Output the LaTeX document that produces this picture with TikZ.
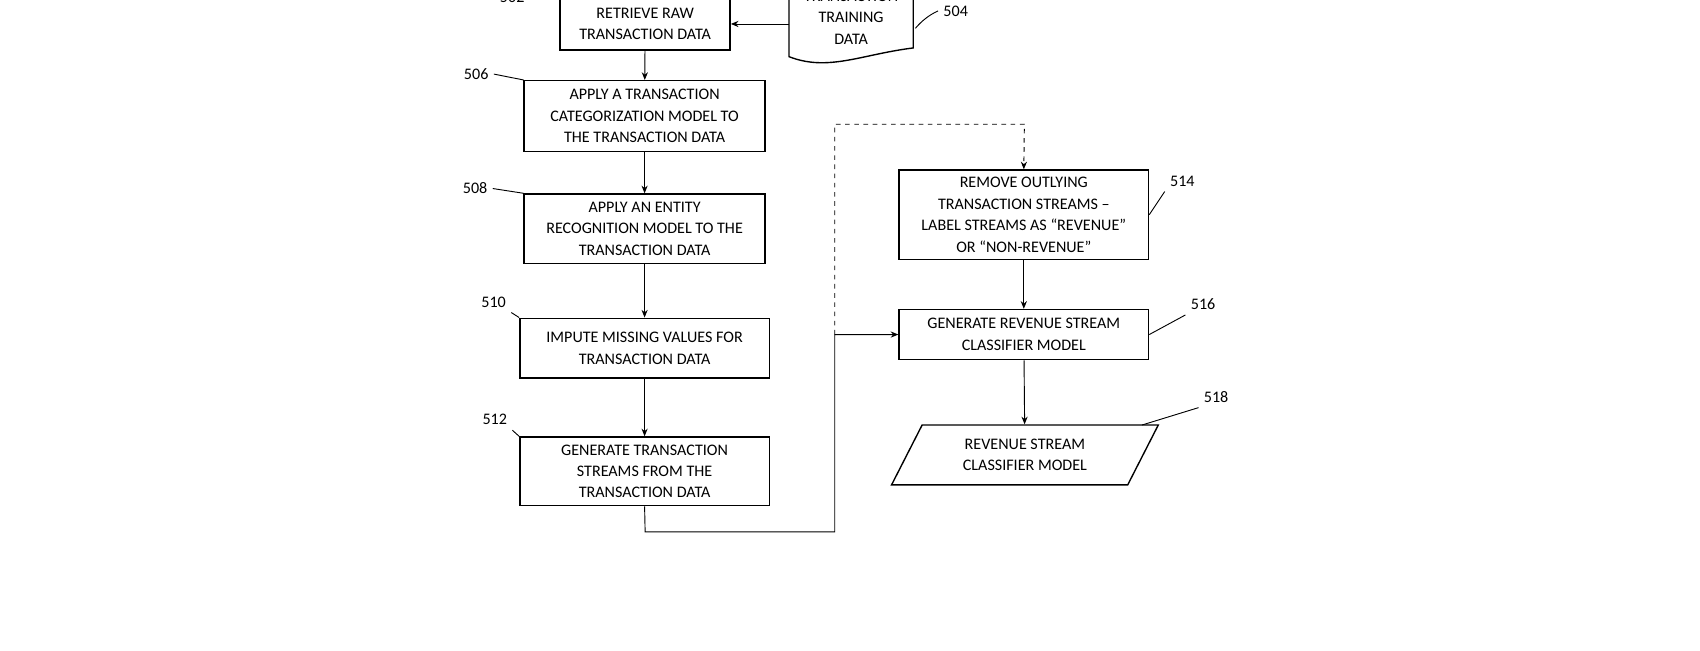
\documentclass[tikz,border=0pt]{standalone}
\usepackage{fontspec}
\setmainfont{Carlito}
\usetikzlibrary{arrows.meta,shapes.geometric}
\begin{document}
\begin{tikzpicture}[x=0.025cm,y=-0.025cm,
 box/.style={draw,line width=0.9pt,align=center,inner sep=0pt,font=\fontsize{10.5}{14}\selectfont},
 lab/.style={font=\fontsize{10.5}{12}\selectfont},
 arr/.style={-{Stealth[length=5pt,width=4pt]},line width=0.6pt},
 lead/.style={line width=0.6pt}]
\useasboundingbox (0,0) rectangle (1560,597);
\node[box,minimum width=156*0.025cm,minimum height=48*0.025cm] (b502) at (592,22) {RETRIEVE RAW\\TRANSACTION DATA};
\node[box,minimum width=221*0.025cm,minimum height=65*0.025cm] (b506) at (591.5,106.5) {APPLY A TRANSACTION\\CATEGORIZATION MODEL TO\\THE TRANSACTION DATA};
\node[box,minimum width=221*0.025cm,minimum height=64*0.025cm] (b508) at (591.5,210) {APPLY AN ENTITY\\RECOGNITION MODEL TO THE\\TRANSACTION DATA};
\node[box,minimum width=229*0.025cm,minimum height=55*0.025cm] (b510) at (591.5,319.5) {IMPUTE MISSING VALUES FOR\\TRANSACTION DATA};
\node[box,minimum width=229*0.025cm,minimum height=63*0.025cm] (b512) at (591.5,432.5) {GENERATE TRANSACTION\\STREAMS FROM THE\\TRANSACTION DATA};
\node[box,minimum width=229*0.025cm,minimum height=82*0.025cm] (b514) at (939.5,197) {REMOVE OUTLYING\\TRANSACTION STREAMS –\\LABEL STREAMS AS “REVENUE”\\OR “NON-REVENUE”};
\node[box,minimum width=229*0.025cm,minimum height=46*0.025cm] (b516) at (939.5,307) {GENERATE REVENUE STREAM\\CLASSIFIER MODEL};
\node[box,trapezium,trapezium stretches=true,trapezium left angle=60,trapezium right angle=120,minimum width=245*0.025cm,minimum height=55*0.025cm] (b518) at (940.5,417.5) {REVENUE STREAM\\CLASSIFIER MODEL};
% document shape 504
\draw[line width=0.9pt] (724,-10) -- (724,52) .. controls (760,66) and (790,50) .. (838,44) -- (838,-10);
\node[lab,align=center,font=\fontsize{10.5}{14}\selectfont] (b504) at (781,16) {TRANSACTION\\TRAINING\\DATA};
\coordinate (d504) at (724,22);
% labels
\node[lab] (l502) at (470,-2) {502};
\node[lab] (l504) at (877,10) {504};
\node[lab] (l506) at (437,68) {506};
\node[lab] (l508) at (436,173) {508};
\node[lab] (l510) at (453,277) {510};
\node[lab] (l512) at (454,385) {512};
\node[lab] (l514) at (1085,166) {514};
\node[lab] (l516) at (1104,279) {516};
\node[lab] (l518) at (1116,364) {518};
\draw[lead] (l502.east) -- (b502.north west);
\draw[lead] (l504.west) .. controls (852,14) and (845,20) .. (840,26);
\draw[lead] (l506.east) -- (b506.north west);
\draw[lead] (l508.east) -- (b508.north west);
\draw[lead] (l510.south east) -- (b510.north west);
\draw[lead] (l512.south east) -- (b512.north west);
\draw[lead] (l514.south west) -- (b514.east);
\draw[lead] (l516.south west) -- (b516.east);
\draw[lead] (l518.south west) -- (1048,390);
% connectors
\draw[arr] (d504) -- (b502.east |- d504);
\draw[arr] (b502) -- (b506);
\draw[arr] (b506) -- (b508);
\draw[arr] (b508) -- (b510);
\draw[arr] (b510) -- (b512);
\coordinate (c1) at (592,488);
\coordinate (c2) at (766,488);
\coordinate (c3) at (766,307);
\coordinate (c4) at (766,114);
\coordinate (c5) at (940,114);
\draw[arr] (b512.south) -- (c1) -- (c2) -- (c3) -- (b516.west);
\draw[arr,dashed] (c3) -- (c4) -- (c5) -- (b514.north);
\draw[arr] (b514) -- (b516);
\draw[arr] (b516) -- (b518);
\end{tikzpicture}
\end{document}
